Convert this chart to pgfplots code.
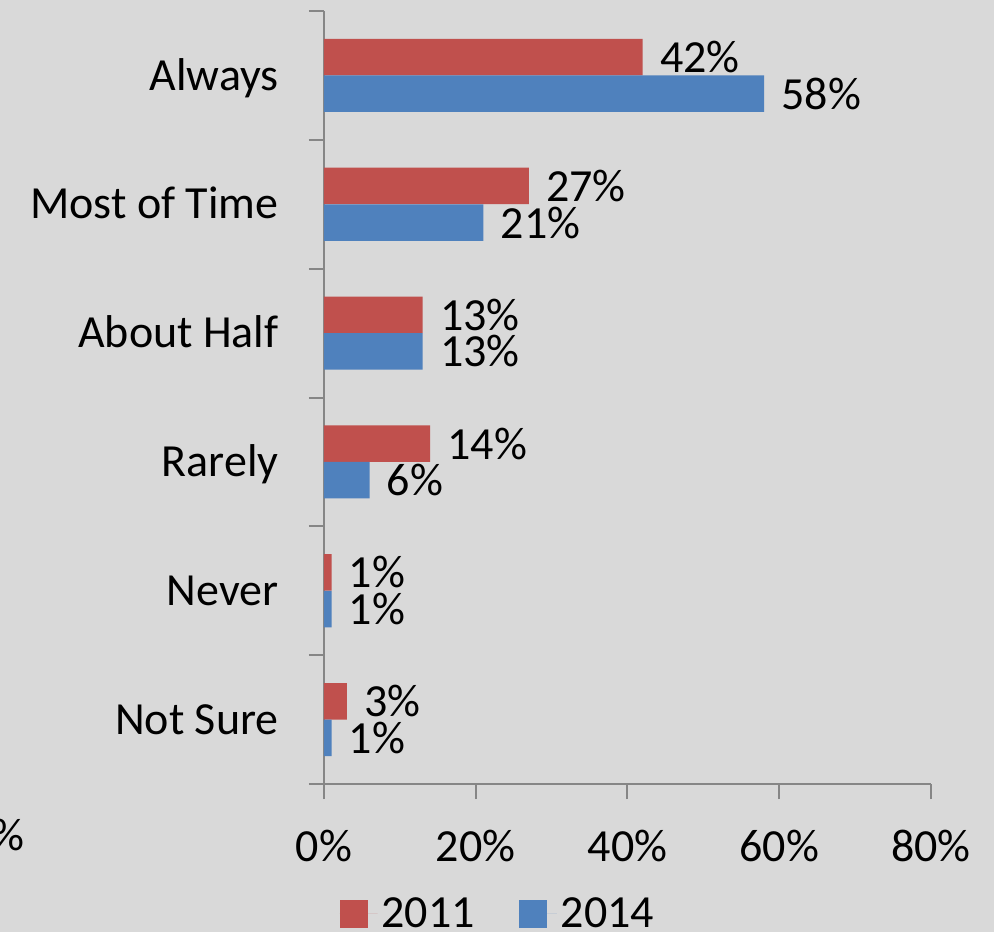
\documentclass[border=0pt]{standalone}
\usepackage{fontspec}
\setmainfont{Carlito}
\usepackage{pgfplots}
\pgfplotsset{compat=1.18}
\definecolor{bg}{HTML}{D9D9D9}
\definecolor{barred}{HTML}{C0504D}
\definecolor{barblue}{HTML}{4F81BD}
\definecolor{axgray}{HTML}{868686}
\newcommand{\bigfont}{\fontsize{23}{27.6}\selectfont}
\begin{document}
\begin{tikzpicture}
\fill[bg] (-162pt,-74pt) rectangle (335pt,392pt);
\path[use as bounding box] (-162pt,-74pt) rectangle (335pt,392pt);
\clip (-162pt,-74pt) rectangle (335pt,392pt);
\node[anchor=base east, inner sep=0pt, font=\bigfont] at (-149.5pt,-33pt) {0\%};
\begin{axis}[
  at={(0,0)}, anchor=south west,
  scale only axis, width=303.5pt, height=386.5pt,
  xmin=0, xmax=80, ymin=-0.5, ymax=5.5,
  xbar, bar width=18.25pt,
  axis x line*=bottom, axis y line*=left,
  axis line style={draw=axgray, line width=1pt},
  xtick={0,20,40,60,80},
  xticklabel={\pgfmathprintnumber{\tick}\%},
  ytick={0,...,5},
  yticklabels={Not Sure,Never,Rarely,About Half,Most of Time,Always},
  minor ytick={-0.5,0.5,...,5.5},
  tick align=outside, major tick length=7.5pt, minor tick length=7.5pt,
  every major y tick/.append style={draw=none},
  tick style={axgray, line width=1pt},
  tick label style={font=\bigfont, black},
  xticklabel style={anchor=base, inner sep=0pt, yshift=-31pt},
  yticklabel style={anchor=base east, inner sep=0pt, xshift=-15pt, yshift=-7.3pt},
  /pgf/number format/assume math mode=true,
  point meta=x,
  nodes near coords={\pgfmathprintnumber{\pgfplotspointmeta}\%},
  nodes near coords align=horizontal,
  every node near coord/.append style={anchor=west, inner sep=0pt, xshift=8.5pt, font=\bigfont, black},
  legend style={at={(0.288,-0.168)}, anchor=center, draw=none, fill=none,
    font=\bigfont, legend columns=2,
    /tikz/every even column/.append style={column sep=20pt}},
]
\addplot[fill=barred, draw=none, bar shift=9.15pt,
  legend image code/.code={\fill[barred] (0pt,-7pt) rectangle (14pt,7pt);\path (0pt,0pt) -- (19pt,0pt);}]
  coordinates {(3,0) (1,1) (14,2) (13,3) (27,4) (42,5)};
\addplot[fill=barblue, draw=none, bar shift=-9.15pt,
  legend image code/.code={\fill[barblue] (0pt,-7pt) rectangle (14pt,7pt);\path (0pt,0pt) -- (19pt,0pt);}]
  coordinates {(1,0) (1,1) (6,2) (13,3) (21,4) (58,5)};
\legend{2011,2014}
\end{axis}
\end{tikzpicture}
\end{document}
